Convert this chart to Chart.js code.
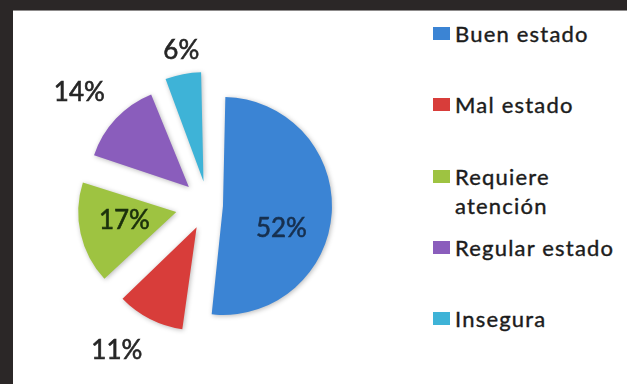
<!DOCTYPE html>
<html lang="es">
<head>
<meta charset="utf-8">
<title>Estado</title>
<script src="https://cdn.jsdelivr.net/npm/chart.js@4.4.1/dist/chart.umd.min.js"></script>
<style>
  html, body {
    margin: 0;
    padding: 0;
    width: 627px;
    height: 384px;
    overflow: hidden;
    background: #2b2727;
  }
  #panel {
    position: absolute;
    left: 13px;
    top: 10px;
    right: 0;
    bottom: 0;
    background: #fff;
    border-top: 1px solid #8d8b8b;
  }
  #chart-box {
    position: absolute;
    left: 0;
    top: 0;
    width: 390px;
    height: 373px;
  }
  #legend {
    position: absolute;
    left: 420px;
    top: 8px;
    font-family: Lato, "Open Sans", sans-serif;
    font-size: 22px;
    letter-spacing: 1.2px;
    color: #1c1c1c;
    -webkit-text-stroke: 0.4px #1c1c1c;
  }
  .lg-item {
    position: relative;
    height: 71.3px;
    padding-left: 22px;
    line-height: 29px;
  }
  .lg-box {
    position: absolute;
    left: 0;
    top: 8px;
    width: 17px;
    height: 13px;
  }
</style>
</head>
<body>
<div id="panel">
  <div id="chart-box"><canvas id="chart-estado"></canvas></div>
  <div id="legend"></div>
</div>

<script>
// categorías y porcentajes
const categories = ["Buen estado", "Mal estado", "Requiere\natención", "Regular estado", "Insegura"];
const shares = [52, 11, 17, 14, 6];
const sliceColors = ["#3b84d4", "#d83d3a", "#9ec341", "#8a5dbc", "#3eb3d7"];
const sliceOffsets = [60, 100, 130, 105, 96];

// etiquetas de porcentaje: distancia al centro y giro en grados
const labelDist = [77, 172, 85, 171, 157];
const labelTurn = [14, 5, 2, -2, 1];
const labelColors = ["#17304f", "#262626", "#1b300c", "#262626", "#262626"];

document.addEventListener("DOMContentLoaded", () => {
  renderLegend();
  renderPie();
});

/** leyenda a la derecha */
function renderLegend() {
  const box = document.getElementById("legend");
  categories.forEach((name, i) => {
    const item = document.createElement("div");
    item.className = "lg-item";
    const sq = document.createElement("span");
    sq.className = "lg-box";
    sq.style.background = sliceColors[i];
    item.appendChild(sq);
    name.split("\n").forEach((line) => {
      const row = document.createElement("div");
      row.textContent = line;
      item.appendChild(row);
    });
    box.appendChild(item);
  });
}

// sombra suave bajo los sectores
const sliceShadow = {
  id: "sliceShadow",
  beforeDatasetsDraw(chart) {
    const ctx = chart.ctx;
    ctx.save();
    ctx.shadowColor = "rgba(0,0,0,0.28)";
    ctx.shadowBlur = 5;
    ctx.shadowOffsetX = 1;
    ctx.shadowOffsetY = 1;
  },
  afterDatasetsDraw(chart) {
    chart.ctx.restore();
  },
};

// textos "NN%" sobre / junto a cada sector
const pctLabels = {
  id: "pctLabels",
  afterDatasetsDraw(chart) {
    const ctx = chart.ctx;
    const arcs = chart.getDatasetMeta(0).data;
    ctx.save();
    ctx.font = "26px Lato";
    ctx.textAlign = "center";
    ctx.textBaseline = "middle";
    ctx.lineWidth = 0.6;
    arcs.forEach((arc, i) => {
      const mid = (arc.startAngle + arc.endAngle) / 2 + (labelTurn[i] * Math.PI) / 180;
      const x = arc.x + Math.cos(mid) * labelDist[i];
      const y = arc.y + Math.sin(mid) * labelDist[i];
      ctx.fillStyle = labelColors[i];
      ctx.strokeStyle = labelColors[i];
      ctx.fillText(shares[i] + "%", x, y);
      ctx.strokeText(shares[i] + "%", x, y);
    });
    ctx.restore();
  },
};

function renderPie() {
  const ctx = document.getElementById("chart-estado").getContext("2d");
  new Chart(ctx, {
    type: "pie",
    data: {
      labels: categories,
      datasets: [
        {
          data: shares,
          backgroundColor: sliceColors,
          borderWidth: 0,
          offset: sliceOffsets,
        },
      ],
    },
    options: {
      responsive: true,
      maintainAspectRatio: false,
      animation: false,
      devicePixelRatio: 1,
      radius: 94,
      layout: { padding: { top: 15 } },
      plugins: {
        legend: { display: false },
        tooltip: { enabled: false },
      },
    },
    plugins: [sliceShadow, pctLabels],
  });
}
</script>
</body>
</html>
